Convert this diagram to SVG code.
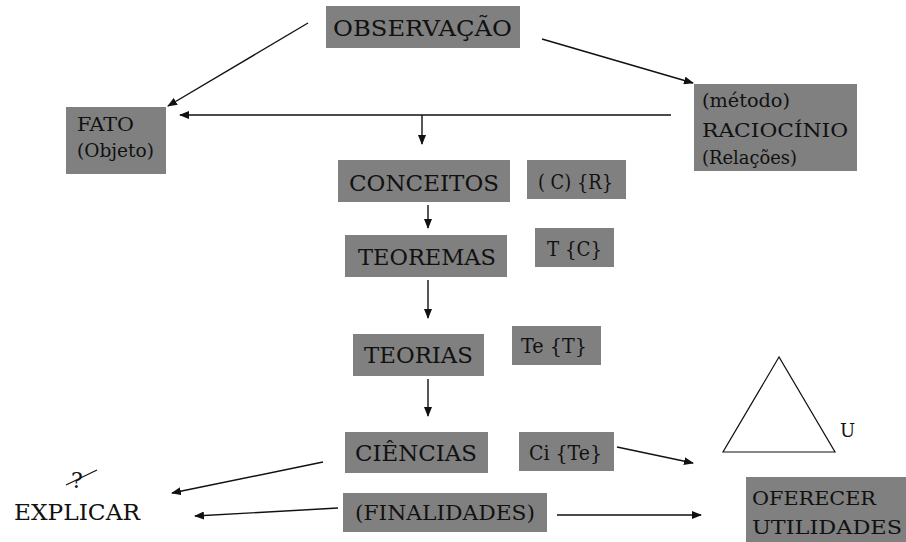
<svg xmlns="http://www.w3.org/2000/svg" width="906" height="542" viewBox="0 0 906 542">
  <style>
    .box { fill: #808080; }
    .t { font-family: "DejaVu Serif", "Liberation Serif", serif; fill: #111; }
    .big { font-size: 22px; }
    .mid { font-size: 20px; }
    .sm { font-size: 18px; }
    .edge { stroke: #111; stroke-width: 1.4; fill: none; marker-end: url(#head); }
  </style>
  <defs>
    <marker id="head" markerUnits="userSpaceOnUse" markerWidth="10" markerHeight="8" refX="9" refY="4" orient="auto">
      <path d="M0,0 L10,4 L0,8 Z" fill="#111"/>
    </marker>
  </defs>
  <rect width="906" height="542" fill="#fff"/>

  <g id="connectors">
    <line class="edge" x1="308" y1="23" x2="168" y2="106"/>
    <line class="edge" x1="542" y1="39" x2="693" y2="83"/>
    <line class="edge" x1="671" y1="115" x2="180" y2="115"/>
    <line class="edge" x1="422" y1="115" x2="422" y2="144"/>
    <line class="edge" x1="428" y1="205" x2="428" y2="228"/>
    <line class="edge" x1="428" y1="280" x2="428" y2="318"/>
    <line class="edge" x1="428" y1="379" x2="428" y2="416"/>
    <line class="edge" x1="323" y1="462" x2="172" y2="493"/>
    <line class="edge" x1="338" y1="508" x2="195" y2="516"/>
    <line class="edge" x1="617" y1="447" x2="693" y2="463"/>
    <line class="edge" x1="557" y1="515" x2="701" y2="515"/>
  </g>

  <g id="observacao">
    <rect class="box" x="326" y="6" width="194" height="42"/>
    <text class="t big" x="333" y="36" textLength="179" lengthAdjust="spacingAndGlyphs">OBSERVAÇÃO</text>
  </g>

  <g id="fato">
    <rect class="box" x="66" y="107" width="100" height="67"/>
    <text class="t sm" x="77" y="131" textLength="57" lengthAdjust="spacingAndGlyphs">FATO</text>
    <text class="t sm" x="77" y="157" textLength="77" lengthAdjust="spacingAndGlyphs">(Objeto)</text>
  </g>

  <g id="raciocinio">
    <rect class="box" x="694" y="84" width="163" height="87"/>
    <text class="t sm" x="702" y="107" textLength="88" lengthAdjust="spacingAndGlyphs">(método)</text>
    <text class="t sm" x="702" y="137" textLength="146" lengthAdjust="spacingAndGlyphs">RACIOCÍNIO</text>
    <text class="t sm" x="702" y="164" textLength="95" lengthAdjust="spacingAndGlyphs">(Relações)</text>
  </g>

  <g id="conceitos">
    <rect class="box" x="338" y="160" width="172" height="42"/>
    <text class="t big" x="349" y="191" textLength="150" lengthAdjust="spacingAndGlyphs">CONCEITOS</text>
  </g>
  <g id="conceitos-def">
    <rect class="box" x="527" y="160" width="99" height="39"/>
    <text class="t mid" x="538" y="189" textLength="75" lengthAdjust="spacingAndGlyphs">( C) {R}</text>
  </g>

  <g id="teoremas">
    <rect class="box" x="345" y="235" width="162" height="42"/>
    <text class="t big" x="358" y="265" textLength="138" lengthAdjust="spacingAndGlyphs">TEOREMAS</text>
  </g>
  <g id="teoremas-def">
    <rect class="box" x="535" y="228" width="79" height="39"/>
    <text class="t mid" x="547" y="256" textLength="55" lengthAdjust="spacingAndGlyphs">T {C}</text>
  </g>

  <g id="teorias">
    <rect class="box" x="353" y="334" width="131" height="42"/>
    <text class="t big" x="364" y="363" textLength="109" lengthAdjust="spacingAndGlyphs">TEORIAS</text>
  </g>
  <g id="teorias-def">
    <rect class="box" x="512" y="326" width="89" height="39"/>
    <text class="t mid" x="521" y="353" textLength="66" lengthAdjust="spacingAndGlyphs">Te {T}</text>
  </g>

  <g id="ciencias">
    <rect class="box" x="345" y="432" width="143" height="41"/>
    <text class="t big" x="355" y="461" textLength="122" lengthAdjust="spacingAndGlyphs">CIÊNCIAS</text>
  </g>
  <g id="ciencias-def">
    <rect class="box" x="519" y="432" width="95" height="39"/>
    <text class="t mid" x="529" y="460" textLength="73" lengthAdjust="spacingAndGlyphs">Ci {Te}</text>
  </g>

  <g id="finalidades">
    <rect class="box" x="343" y="493" width="204" height="39"/>
    <text class="t mid" x="355" y="520" textLength="180" lengthAdjust="spacingAndGlyphs">(FINALIDADES)</text>
  </g>

  <g id="explicar">
    <text class="t big" x="14" y="520" textLength="126" lengthAdjust="spacingAndGlyphs">EXPLICAR</text>
    <text class="t" x="77" y="488" font-size="22" text-anchor="middle">?</text>
    <line x1="66" y1="485" x2="97" y2="470" stroke="#111" stroke-width="1.2"/>
  </g>

  <g id="utilidades">
    <rect class="box" x="746" y="477" width="160" height="65"/>
    <text class="t sm" x="752" y="505" textLength="124" lengthAdjust="spacingAndGlyphs">OFERECER</text>
    <text class="t sm" x="752" y="534" textLength="150" lengthAdjust="spacingAndGlyphs">UTILIDADES</text>
  </g>

  <g id="triangulo">
    <polygon points="779,357 723,452 835,452" fill="none" stroke="#111" stroke-width="1.2"/>
    <text class="t sm" x="840" y="437">U</text>
  </g>
</svg>
